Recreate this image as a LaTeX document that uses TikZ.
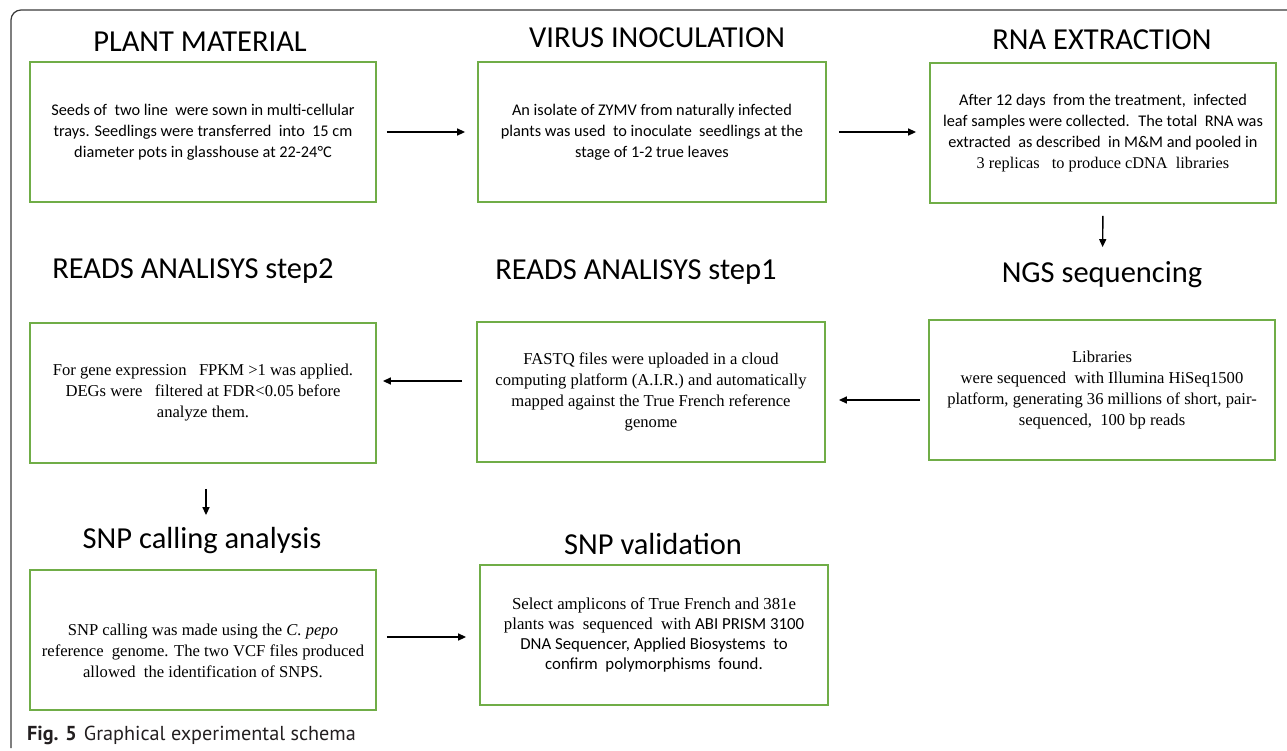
\documentclass[tikz,border=0pt]{standalone}
\usepackage{fontspec}
\setmainfont{Liberation Serif}
\newfontfamily\carl{Carlito}
\newfontfamily\capf{PT Sans}
\usetikzlibrary{arrows.meta}
\definecolor{boxgreen}{HTML}{70AD47}
\definecolor{framegray}{HTML}{3A3A3A}
\definecolor{captext}{HTML}{231F20}
\begin{document}
\begin{tikzpicture}[x=1pt,y=-1pt,
  box/.style={draw=boxgreen, line width=1.8pt, minimum width=346pt, minimum height=140pt, inner sep=0pt},
  ttl/.style={font=\carl\fontsize{30.5}{34}\selectfont, anchor=base, inner sep=0pt},
  ctxt/.style={font=\carl\fontsize{16.3}{21}\selectfont, align=center, inner sep=0pt},
  ttxt/.style={font=\fontsize{16.6}{21}\selectfont, align=center, inner sep=0pt},
  arr/.style={line width=1.4pt, -{Triangle[length=8pt,width=7pt]}}]
\useasboundingbox (0,0) rectangle (1287,750);
% frame
\draw[framegray, line width=1.2pt, rounded corners=10pt] (11,748) -- (11,10) -- (1295,10);
% boxes
\node[box, minimum width=346pt] (b1) at (203,132) {};
\node[box, minimum width=348pt] (b2) at (652,132) {};
\node[box, minimum width=346pt] (b3) at (1103,133) {};
\node[box, minimum width=346pt] (b4) at (1102,390) {};
\node[box, minimum width=348pt] (b5) at (651,392) {};
\node[box, minimum width=346pt] (b6) at (203,393) {};
\node[box, minimum width=346pt] (b7) at (203,640) {};
\node[box, minimum width=348pt] (b8) at (654,635) {};
% titles
\node[ttl] (t1) at (200,51) {PLANT MATERIAL};
\node[ttl] (t2) at (657,47) {VIRUS INOCULATION};
\node[ttl] (t3) at (1102,49) {RNA EXTRACTION};
\node[ttl] (t4) at (1102,282) {NGS sequencing};
\node[ttl] (t5) at (636,279) {READS ANALISYS step1};
\node[ttl] (t6) at (193,278) {READS ANALISYS step2};
\node[ttl] (t7) at (202,548) {SNP calling analysis};
\node[ttl] (t8) at (653,554) {SNP validation};
% texts
\node[ctxt] (x1) at (b1) {Seeds of~ two line~ were sown in multi-cellular\\trays. Seedlings were transferred~ into~ 15 cm\\diameter pots in glasshouse at 22-24°C};
\node[ctxt] (x2) at (b2) {An isolate of ZYMV from naturally infected\\plants was used~ to inoculate~ seedlings at the\\stage of 1-2 true leaves};
\node[ctxt] (x3) at (b3) {After 12 days~ from the treatment,~ infected\\leaf samples were collected.~ The total~ RNA was\\extracted~ as described~ in M\&M and pooled in\\{\rmfamily 3 replicas~~ to produce cDNA~ libraries}};
\node[ttxt] (x4) at (b4) {Libraries\\were sequenced~ with Illumina HiSeq1500\\platform, generating 36 millions of short, pair-\\sequenced,~ 100 bp reads};
\node[ttxt] (x5) at (b5) {FASTQ files were uploaded in a cloud\\computing platform (A.I.R.) and automatically\\mapped against the True French reference\\genome};
\node[ttxt] (x6) at (b6) {For gene expression~~ FPKM >1 was applied.\\DEGs were~~ filtered at FDR<0.05 before\\analyze them.};
\node[ttxt, yshift=-11pt] (x7) at (b7) {SNP calling was made using the \textit{C. pepo}\\reference~ genome. The two VCF files produced\\allowed~ the identification of SNPS.};
\node[ttxt, font=\fontsize{16.8}{20}\selectfont] (x8) at (b8) {Select amplicons of True French and 381e\\plants was~ sequenced~ with {\carl\fontsize{16.8}{20}\selectfont ABI PRISM 3100}\\{\carl\fontsize{16.8}{20}\selectfont DNA Sequencer, Applied Biosystems~ to}\\{\carl\fontsize{16.8}{20}\selectfont confirm~ polymorphisms~ found.}};
% caption
\node[anchor=base west, inner sep=0pt, text=captext, font=\capf\fontsize{20.2}{23}\selectfont] (cap) at (27,740) {\textbf{Fig. 5}\hspace{7pt}Graphical experimental schema};
% arrows
\coordinate (p1) at (b1.east);
\draw[arr, shorten <=10pt, shorten >=12pt] (p1) -- (p1 -| b2.west);
\coordinate (p2) at (b2.east);
\draw[arr, shorten <=12pt, shorten >=13pt] (p2) -- (p2 -| b3.west);
\draw[arr, shorten <=12pt, shorten >=72pt] (b3.south) -- (b4.north);
\coordinate (p4) at ([yshift=-10pt]b4.west);
\draw[arr, shorten <=8pt, shorten >=13pt] (p4) -- (p4 -| b5.east);
\coordinate (p5) at ([yshift=11pt]b5.west);
\draw[arr, shorten <=14pt, shorten >=6pt] (p5) -- (p5 -| b6.east);
\coordinate (p6) at ([xshift=3pt]b6.south);
\draw[arr, shorten <=25pt, shorten >=54pt] (p6) -- (p6 |- b7.north);
\coordinate (p7) at ([yshift=3pt]b7.east);
\draw[arr, shorten <=10pt, shorten >=13pt] (p7) -- (p7 -| b8.west);
\end{tikzpicture}
\end{document}
